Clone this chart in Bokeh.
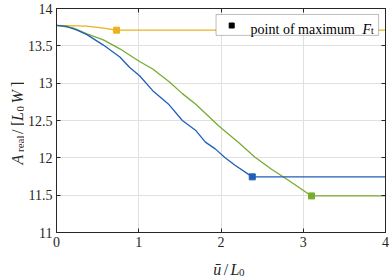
from math import pi
from bokeh.plotting import figure
from bokeh.layouts import row, column
from bokeh.models import LinearAxis, FixedTicker, Label, BoxAnnotation, Range1d
from bokeh.embed import file_html
from bokeh.resources import INLINE

# ---- data ----
blue_x = [0, 0.12, 0.25, 0.37, 0.57, 0.77, 0.89, 1.01, 1.17, 1.37, 1.53, 1.69, 1.81, 1.93, 2.05, 2.17, 2.38, 4.0]
blue_y = [13.775, 13.76, 13.71, 13.65, 13.51, 13.35, 13.21, 13.10, 12.90, 12.71, 12.50, 12.37, 12.21, 12.12, 12.00, 11.90, 11.745, 11.745]

green_x = [0, 0.20, 0.37, 0.57, 0.77, 1.01, 1.17, 1.37, 1.53, 1.69, 1.97, 2.21, 2.41, 2.61, 2.82, 3.10, 4.0]
green_y = [13.775, 13.74, 13.66, 13.58, 13.46, 13.29, 13.19, 13.02, 12.86, 12.72, 12.43, 12.21, 12.01, 11.85, 11.70, 11.49, 11.49]

yellow_x = [0, 0.36, 0.55, 0.73, 4.0]
yellow_y = [13.775, 13.765, 13.74, 13.71, 13.71]

max_x = [0.73, 2.38, 3.10]
max_y = [13.71, 11.745, 11.49]

x_ticks = [0, 1, 2, 3, 4]
x_tick_labels = ["0", "1", "2", "3", "4"]
y_ticks = [11, 11.5, 12, 12.5, 13, 13.5, 14]
y_tick_labels = ["11", "11.5", "12", "12.5", "13", "13.5", "14"]

legend_label = "point of maximum"

# ---- styles ----
BLUE = "#1f5fb8"
GREEN = "#77ac30"
YELLOW = "#edb120"
AXC = "#262626"
FONT = "Liberation Serif"

YLAB_W = 24     # width of the strip that carries the y title
MAIN_H = 252    # height of the main figure; the x title strip fills the rest

p = figure(width=390 - YLAB_W, height=MAIN_H, output_backend="svg", toolbar_location=None,
           x_range=Range1d(0, 4), y_range=Range1d(11, 14),
           min_border_left=53 - YLAB_W, min_border_right=5, min_border_top=8,
           min_border_bottom=MAIN_H - 232)
p.background_fill_color = "white"
p.border_fill_color = "white"
p.outline_line_color = AXC
p.outline_line_width = 1

def style_axis(ax, labels=True):
    ax.axis_line_color = AXC
    ax.major_tick_line_color = AXC
    ax.major_tick_in = 4
    ax.major_tick_out = 0
    ax.minor_tick_line_color = None
    ax.major_label_text_font = FONT
    if labels:
        ax.major_label_text_color = AXC
        ax.major_label_text_font_size = "14px"
    else:
        ax.major_label_text_color = None
        ax.major_label_text_font_size = "1px"

xa = p.xaxis[0]
ya = p.yaxis[0]
xa.ticker = FixedTicker(ticks=x_ticks)
ya.ticker = FixedTicker(ticks=y_ticks)
xa.major_label_overrides = dict(zip(x_ticks, x_tick_labels))
ya.major_label_overrides = dict(zip(y_ticks, y_tick_labels))
style_axis(xa)
style_axis(ya)
xa.major_label_standoff = 4
ya.major_label_standoff = 4

top = LinearAxis(ticker=FixedTicker(ticks=x_ticks), major_label_standoff=0)
right = LinearAxis(ticker=FixedTicker(ticks=y_ticks), major_label_standoff=0)
style_axis(top, False)
style_axis(right, False)
p.add_layout(top, "above")
p.add_layout(right, "right")

p.xgrid.ticker = FixedTicker(ticks=x_ticks)
p.ygrid.ticker = FixedTicker(ticks=y_ticks)
p.grid.grid_line_color = "#e0e0e0"
p.grid.grid_line_width = 1

# ---- lines ----
p.line(yellow_x, yellow_y, line_color=YELLOW, line_width=1.3)
p.line(green_x, green_y, line_color=GREEN, line_width=1.3)
p.line(blue_x, blue_y, line_color=BLUE, line_width=1.3)
p.scatter(max_x[0:1], max_y[0:1], marker="square", size=6, fill_color=YELLOW, line_color=YELLOW)
p.scatter(max_x[1:2], max_y[1:2], marker="square", size=6, fill_color=BLUE, line_color=BLUE)
p.scatter(max_x[2:3], max_y[2:3], marker="square", size=6, fill_color=GREEN, line_color=GREEN)

# ---- legend (manual, for rich text) ----
box = BoxAnnotation(left=1.94, right=3.916, top=13.92, bottom=13.64,
                    fill_color="white", fill_alpha=1.0, line_color=AXC, line_width=1,
                    level="annotation")
p.add_layout(box)
lm = p.scatter([2.13], [13.772], marker="square", size=5, fill_color="black", line_color="black")
lm.level = "overlay"
p.add_layout(Label(x=2.36, y=13.72, text=legend_label, text_font=FONT, text_font_size="14px",
                   text_color="black", text_baseline="alphabetic", level="overlay"))
p.add_layout(Label(x=3.72, y=13.72, text="F", text_font=FONT, text_font_style="italic",
                   text_font_size="14px", text_color="black", text_baseline="alphabetic", level="overlay"))
p.add_layout(Label(x=3.825, y=13.695, text="t", text_font=FONT,
                   text_font_size="9.5px", text_color="black", text_baseline="alphabetic", level="overlay"))

# ---- y axis title strip (pixel coordinates, y downwards) ----
yl = figure(width=YLAB_W, height=276, output_backend="svg", toolbar_location=None,
            x_range=Range1d(0, YLAB_W), y_range=Range1d(276, 0),
            x_axis_location=None, y_axis_location=None, min_border=0)
yl.outline_line_color = None
yl.grid.visible = False

def ylab(text, py, base, size="16px", italic=False):
    yl.add_layout(Label(x=base, y=py, text=text, angle=pi / 2, text_font=FONT,
                        text_font_size=size, text_font_style="italic" if italic else "normal",
                        text_color=AXC, text_align="left", text_baseline="alphabetic"))

ylab("A", 164, 17, italic=True)
ylab("real", 151.5, 19.5, size="11px")
ylab("/", 133.5, 17)
ylab("[", 125.5, 17)
ylab("L", 120.5, 17, italic=True)
ylab("0", 111, 19.5, size="11px")
ylab("W", 103, 17, italic=True)
ylab("]", 86.5, 17)

# ---- x axis title strip (pixel coordinates) ----
xl = figure(width=390 - YLAB_W, height=276 - MAIN_H, output_backend="svg", toolbar_location=None,
            x_range=Range1d(YLAB_W, 390), y_range=Range1d(276, MAIN_H),
            x_axis_location=None, y_axis_location=None, min_border=0)
xl.outline_line_color = None
xl.grid.visible = False

def xlab(text, px, base, size="16px", italic=False):
    xl.add_layout(Label(x=px, y=base, text=text, text_font=FONT,
                        text_font_size=size, text_font_style="italic" if italic else "normal",
                        text_color=AXC, text_align="left", text_baseline="alphabetic"))

xlab("ū", 198.5, 269, italic=True)
xlab("/", 210, 269)
xlab("L", 217.5, 269, italic=True)
xlab("0", 227, 272, size="11px")

layout = row(yl, column(p, xl))
open("out.html", "w").write(file_html(layout, INLINE))
